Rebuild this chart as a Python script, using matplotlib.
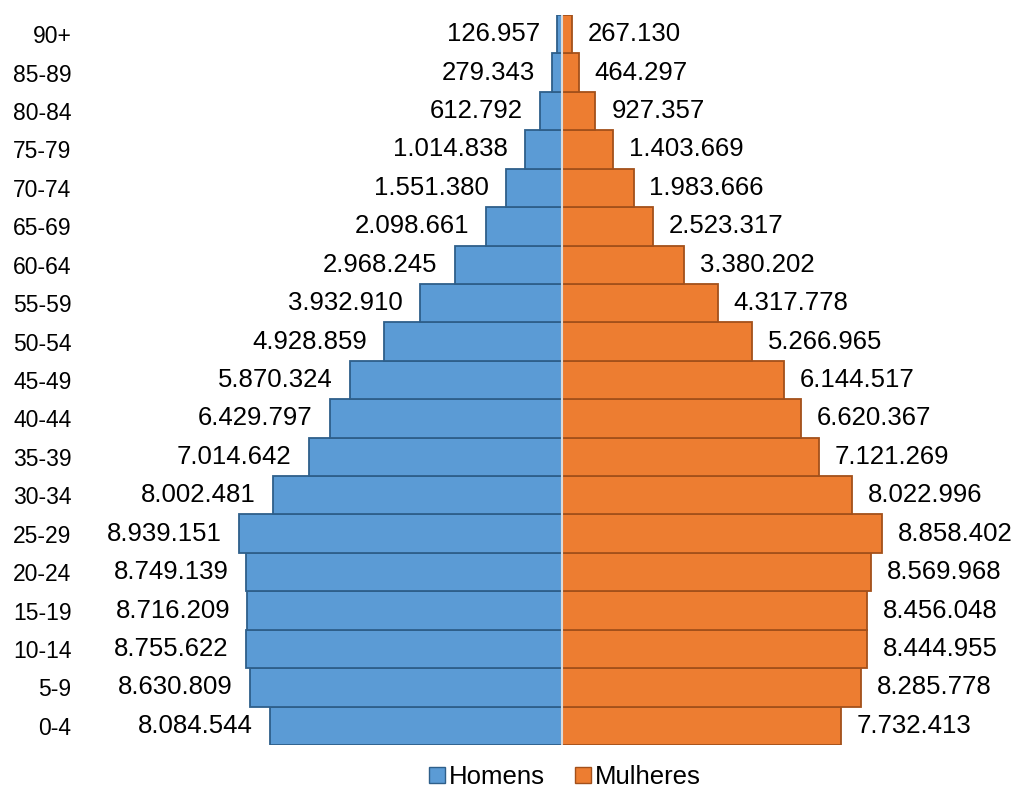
import numpy as np
import matplotlib.pyplot as plt
from matplotlib.patches import Patch

plt.rcParams['font.family'] = ['Liberation Sans', 'DejaVu Sans']

ages = ['0-4', '5-9', '10-14', '15-19', '20-24', '25-29', '30-34', '35-39', '40-44',
        '45-49', '50-54', '55-59', '60-64', '65-69', '70-74', '75-79', '80-84', '85-89', '90+']
homens = [8084544, 8630809, 8755622, 8716209, 8749139, 8939151, 8002481, 7014642, 6429797,
          5870324, 4928859, 3932910, 2968245, 2098661, 1551380, 1014838, 612792, 279343, 126957]
mulheres = [7732413, 8285778, 8444955, 8456048, 8569968, 8858402, 8022996, 7121269, 6620367,
            6144517, 5266965, 4317778, 3380202, 2523317, 1983666, 1403669, 927357, 464297, 267130]

def fmt(v):
    return f'{v:,}'.replace(',', '.')

fig = plt.figure(figsize=(10.18, 7.87), dpi=100)
ax = fig.add_axes([95 / 1018, 1 - 745 / 787, 915 / 1018, 730 / 787])

y = np.arange(len(ages))
blue, orange = '#5B9BD5', '#ED7D31'
ax.barh(y, [-v for v in homens], height=1.0, color=blue, edgecolor='#2E5F8A', linewidth=1.3)
ax.barh(y, mulheres, height=1.0, color=orange, edgecolor='#A3501A', linewidth=1.3)
ax.axvline(0, color='#D9D9D9', linewidth=1.5)

for yi, v in zip(y, homens):
    ax.text(-v - 480000, yi, fmt(v), ha='right', va='center', fontsize=18.5)
for yi, v in zip(y, mulheres):
    ax.text(v + 440000, yi, fmt(v), ha='left', va='center', fontsize=18.5)

ax.set_xlim(-(562 - 95) / 36.1 * 1e6, (1010 - 562) / 36.1 * 1e6)
ax.set_ylim(-0.5, len(ages) - 0.5)
ax.set_yticks(y)
ax.set_yticklabels(ages, fontsize=16.5)
ax.tick_params(axis='y', length=0, pad=17)
ax.set_xticks([])
for s in ax.spines.values():
    s.set_visible(False)

handles = [Patch(facecolor=blue, edgecolor='#2E5F8A', label='Homens'),
           Patch(facecolor=orange, edgecolor='#A3501A', label='Mulheres')]
fig.legend(handles=handles, loc='center', bbox_to_anchor=(565 / 1018, 1 - 777 / 787), ncol=2,
           frameon=False, fontsize=18.5, handlelength=0.6, handleheight=0.6,
           handletextpad=0.15, columnspacing=1.2)

fig.savefig('out.png', dpi=100)
